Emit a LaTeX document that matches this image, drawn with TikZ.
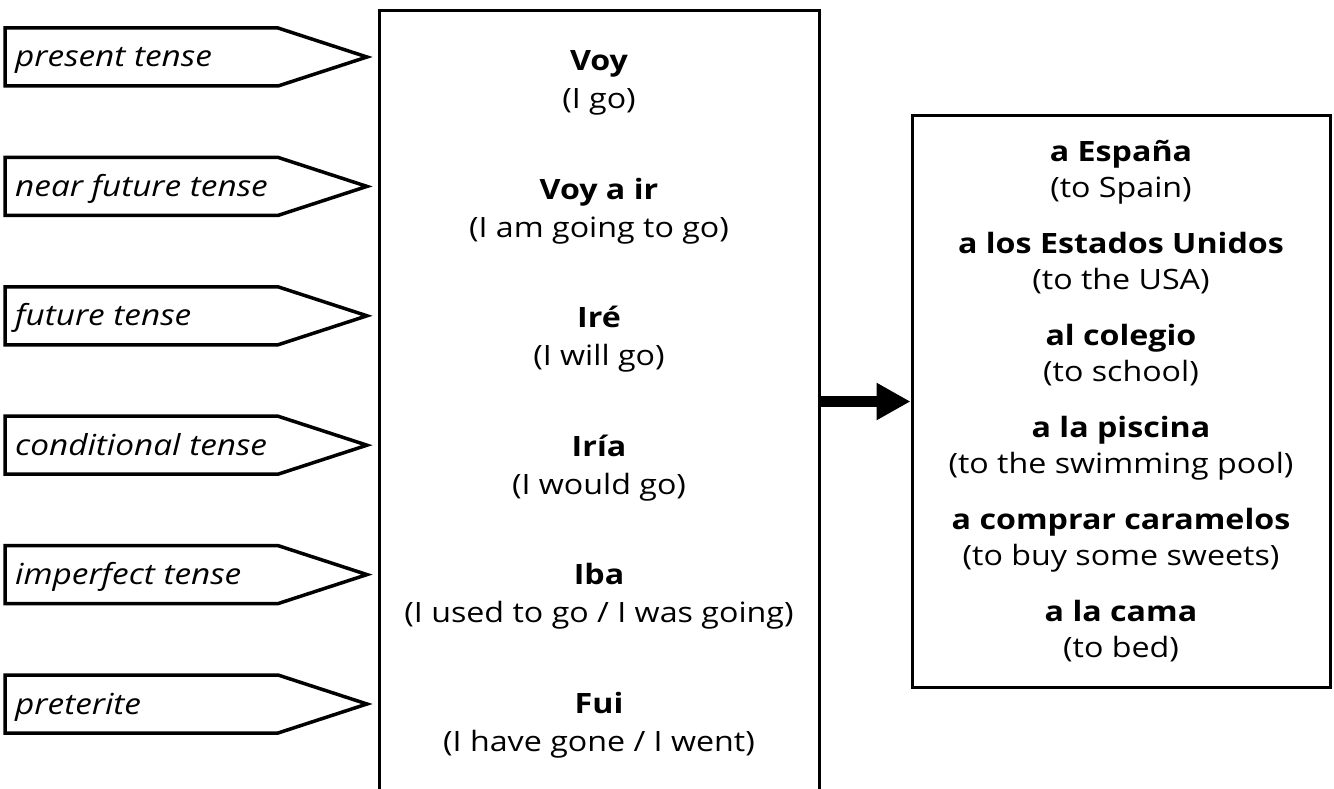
\documentclass[tikz,border=0pt]{standalone}
\usepackage{fontspec}
\setmainfont[FakeStretch=1.15]{Open Sans}
\usetikzlibrary{arrows.meta,positioning}

\tikzset{
  tensebox/.style={line width=3.5pt,line join=miter},
  tenselabel/.style={anchor=base west,inner sep=0pt,font=\fontsize{29}{30}\selectfont\itshape},
  listbox/.style={draw,line width=3pt,align=center,inner sep=0pt},
}

\begin{document}
\begin{tikzpicture}[x=1pt,y=-1pt]
\useasboundingbox (0,0) rectangle (1334,789);

% tense pointers on the left
\foreach \name [count=\i from 0] in {present tense,near future tense,future tense,conditional tense,imperfect tense,preterite}{
  \draw[tensebox] (5,28+129.4*\i) -- (278,28+129.4*\i) -- (367,57+129.4*\i)
    -- (278,86+129.4*\i) -- (5,86+129.4*\i) -- cycle;
  \node[tenselabel] (tense\i) at (15,67+129.4*\i) {\name};
}

% verb forms
\node[listbox,minimum width=440pt,minimum height=788pt,
  font=\fontsize{28}{38}\selectfont] (verbs) at (599,404.5) {%
  \textbf{Voy}\\(I go)\\[52.5pt]
  \textbf{Voy a ir}\\(I am going to go)\\[52.5pt]
  \textbf{Iré}\\(I will go)\\[52.5pt]
  \textbf{Iría}\\(I would go)\\[52.5pt]
  \textbf{Iba}\\(I used to go / I was going)\\[52.5pt]
  \textbf{Fui}\\(I have gone / I went)};

% destinations
\node[listbox,minimum width=418pt,minimum height=571pt,
  font=\fontsize{28}{36}\selectfont] (places) at (1121,401.5) {%
  \textbf{a España}\\(to Spain)\\[20pt]
  \textbf{a los Estados Unidos}\\(to the USA)\\[20pt]
  \textbf{al colegio}\\(to school)\\[20pt]
  \textbf{a la piscina}\\(to the swimming pool)\\[20pt]
  \textbf{a comprar caramelos}\\(to buy some sweets)\\[20pt]
  \textbf{a la cama}\\(to bed)};

\draw[line width=11pt,-{Triangle[length=34pt,width=35pt]}] (verbs.east |- places.west) -- (places.west);
\end{tikzpicture}
\end{document}
